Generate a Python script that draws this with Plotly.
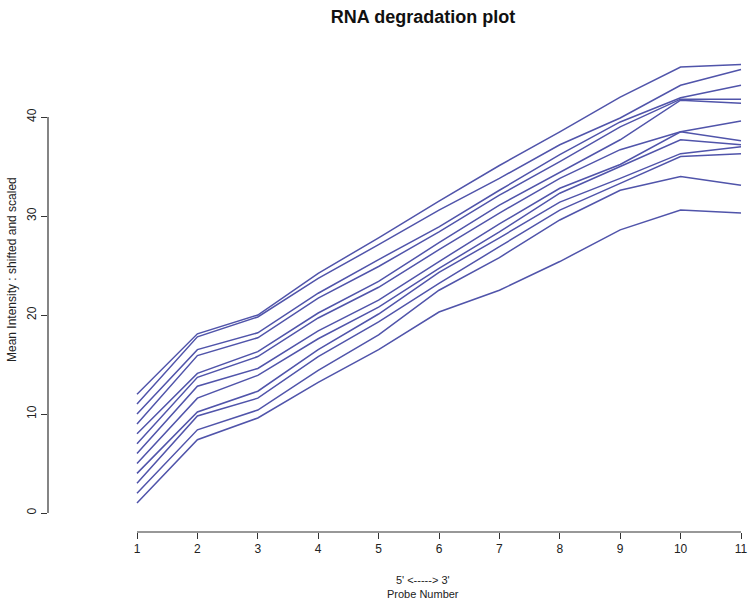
import plotly.graph_objects as go

probe = [1, 2, 3, 4, 5, 6, 7, 8, 9, 10, 11]

s01 = [1, 7.4, 9.6, 13.2, 16.5, 20.3, 22.5, 25.4, 28.6, 30.6, 30.3]
s02 = [2, 8.4, 10.4, 14.4, 18.0, 22.5, 25.8, 29.6, 32.6, 34.0, 33.1]
s03 = [3, 9.8, 11.6, 15.8, 19.3, 23.2, 26.9, 30.6, 33.3, 36.0, 36.3]
s04 = [4, 10.2, 12.3, 16.5, 20.1, 24.3, 27.8, 31.4, 33.8, 36.3, 37.0]
s05 = [5, 11.6, 13.9, 17.6, 20.8, 24.7, 28.4, 32.3, 35.0, 37.7, 37.2]
s06 = [6, 12.8, 14.6, 18.4, 21.5, 25.4, 29.2, 32.8, 35.2, 38.5, 37.6]
s07 = [7, 13.7, 15.8, 19.7, 22.8, 26.6, 30.3, 33.8, 36.7, 38.5, 39.6]
s08 = [8, 14.1, 16.3, 20.2, 23.4, 27.3, 31.1, 34.4, 37.7, 41.7, 41.4]
s09 = [9, 15.9, 17.7, 21.7, 24.9, 28.4, 32.1, 35.5, 39.0, 41.8, 41.8]
s10 = [10, 16.5, 18.2, 22.2, 25.6, 28.9, 32.6, 36.2, 39.5, 41.95, 43.2]
s11 = [11, 17.8, 19.8, 23.7, 27.1, 30.6, 33.8, 37.2, 39.9, 43.2, 44.8]
s12 = [12, 18.1, 20.0, 24.2, 27.8, 31.5, 35.1, 38.5, 42.0, 45.05, 45.3]

x_ticks = [1, 2, 3, 4, 5, 6, 7, 8, 9, 10, 11]
y_ticks = [0, 10, 20, 30, 40]

series = [s01, s02, s03, s04, s05, s06, s07, s08, s09, s10, s11, s12]
LINE = "#5054aa"
FONT = "Liberation Sans, Arial, sans-serif"

fig = go.Figure()
for s in series:
    fig.add_trace(go.Scatter(x=probe, y=s, mode="lines",
                             line=dict(color=LINE, width=1.5),
                             showlegend=False, hoverinfo="skip"))

W, H = 748, 605
ml, mr, mt, mb = 48, 0, 36, 73
px_per_x = 60.4
x0_px = 137
xr = [1 - (x0_px - ml) / px_per_x, 1 + (W - x0_px) / px_per_x]
px_per_y = 9.9
y0_px = 513
yr = [-(H - mb - y0_px) / px_per_y, (y0_px - mt) / px_per_y]

fig.update_layout(
    width=W, height=H,
    margin=dict(l=ml, r=mr, t=mt, b=mb, pad=0),
    paper_bgcolor="white", plot_bgcolor="white",
    font=dict(family=FONT, color="#222222", size=12),
    title=dict(text="<b>RNA degradation plot</b>", x=(423 - ml) / (W - ml - mr), xref="paper",
               xanchor="center", y=1 - 17 / H, yanchor="middle",
               font=dict(size=18, color="#111111", family=FONT)),
    xaxis=dict(range=xr, tickvals=x_ticks, ticktext=[str(v) for v in x_ticks],
               showgrid=False, zeroline=False, showline=False,
               ticks="outside", ticklen=6, tickwidth=1.2, tickcolor="#333333",
               tickfont=dict(size=12, color="#222222")),
    yaxis=dict(range=yr, tickvals=y_ticks, ticktext=[str(v) for v in y_ticks],
               showgrid=False, zeroline=False, showline=False,
               ticks="outside", ticklen=6, tickwidth=1.2, tickcolor="#333333",
               tickangle=-90, tickfont=dict(size=12, color="#222222")),
)

# R-style axis lines spanning only the tick range
fig.add_shape(type="line", xref="x", yref="paper", x0=x_ticks[0], x1=x_ticks[-1], y0=0, y1=0,
              line=dict(color="#333333", width=1.2))
fig.add_shape(type="line", xref="paper", yref="y", x0=0, x1=0, y0=y_ticks[0], y1=y_ticks[-1],
              line=dict(color="#333333", width=1.2))

plot_h = H - mt - mb
plot_w = W - ml - mr
fig.add_annotation(text="5' <-----> 3'<br>Probe Number", xref="paper", yref="paper",
                   x=(423 - ml) / plot_w, y=-(587 - (H - mb)) / plot_h,
                   showarrow=False, xanchor="center", yanchor="middle",
                   font=dict(size=11, color="#222222", family=FONT))
fig.add_annotation(text="Mean Intensity : shifted and scaled", xref="paper", yref="paper",
                   x=-(ml - 12) / plot_w, y=(H - mb - 270) / plot_h, textangle=-90,
                   showarrow=False, xanchor="center", yanchor="middle",
                   font=dict(size=12, color="#222222", family=FONT))

fig.write_html("out.html")
